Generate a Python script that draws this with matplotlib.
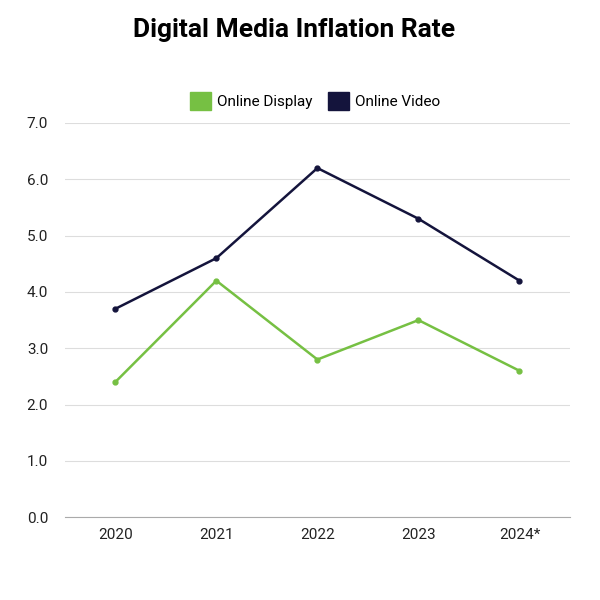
import matplotlib.pyplot as plt

years = ['2020', '2021', '2022', '2023', '2024*']
online_display = [2.4, 4.2, 2.8, 3.5, 2.6]
online_video = [3.7, 4.6, 6.2, 5.3, 4.2]

green = '#76c043'
navy = '#14143c'

plt.rcParams['font.family'] = ['Roboto', 'DejaVu Sans']

fig = plt.figure(figsize=(6, 6), dpi=100)
ax = fig.add_axes([0.108, 0.138, 0.842, 0.657])

x = range(len(years))
ax.plot(x, online_display, color=green, lw=1.8, marker='o', ms=3.5, label='Online Display')
ax.plot(x, online_video, color=navy, lw=1.8, marker='o', ms=3.5, label='Online Video')

ax.set_xlim(-0.5, 4.5)
ax.set_ylim(0, 7)
ax.set_xticks(list(x))
ax.set_xticklabels(years)
ax.set_yticks(range(8))
ax.set_yticklabels([f'{v:.1f}' for v in range(8)])
ax.tick_params(length=0, labelsize=11, colors='#222222')
ax.tick_params(axis='y', pad=12)
ax.tick_params(axis='x', pad=8)
ax.grid(axis='y', color='#dddddd', lw=0.8)
ax.set_axisbelow(True)
for s in ['top', 'right', 'left']:
    ax.spines[s].set_visible(False)
ax.spines['bottom'].set_color('#aaaaaa')

fig.text(0.49, 0.95, 'Digital Media Inflation Rate', ha='center', va='center',
         fontsize=19, fontweight='bold', color='black')

handles = [plt.Rectangle((0, 0), 1, 1, color=green), plt.Rectangle((0, 0), 1, 1, color=navy)]
fig.legend(handles, ['Online Display', 'Online Video'], loc='center', bbox_to_anchor=(0.525, 0.832),
           ncol=2, frameon=False, fontsize=11, handlelength=1.4, handleheight=1.4,
           handletextpad=0.4, columnspacing=1.0)

plt.savefig('out.png', dpi=100)
